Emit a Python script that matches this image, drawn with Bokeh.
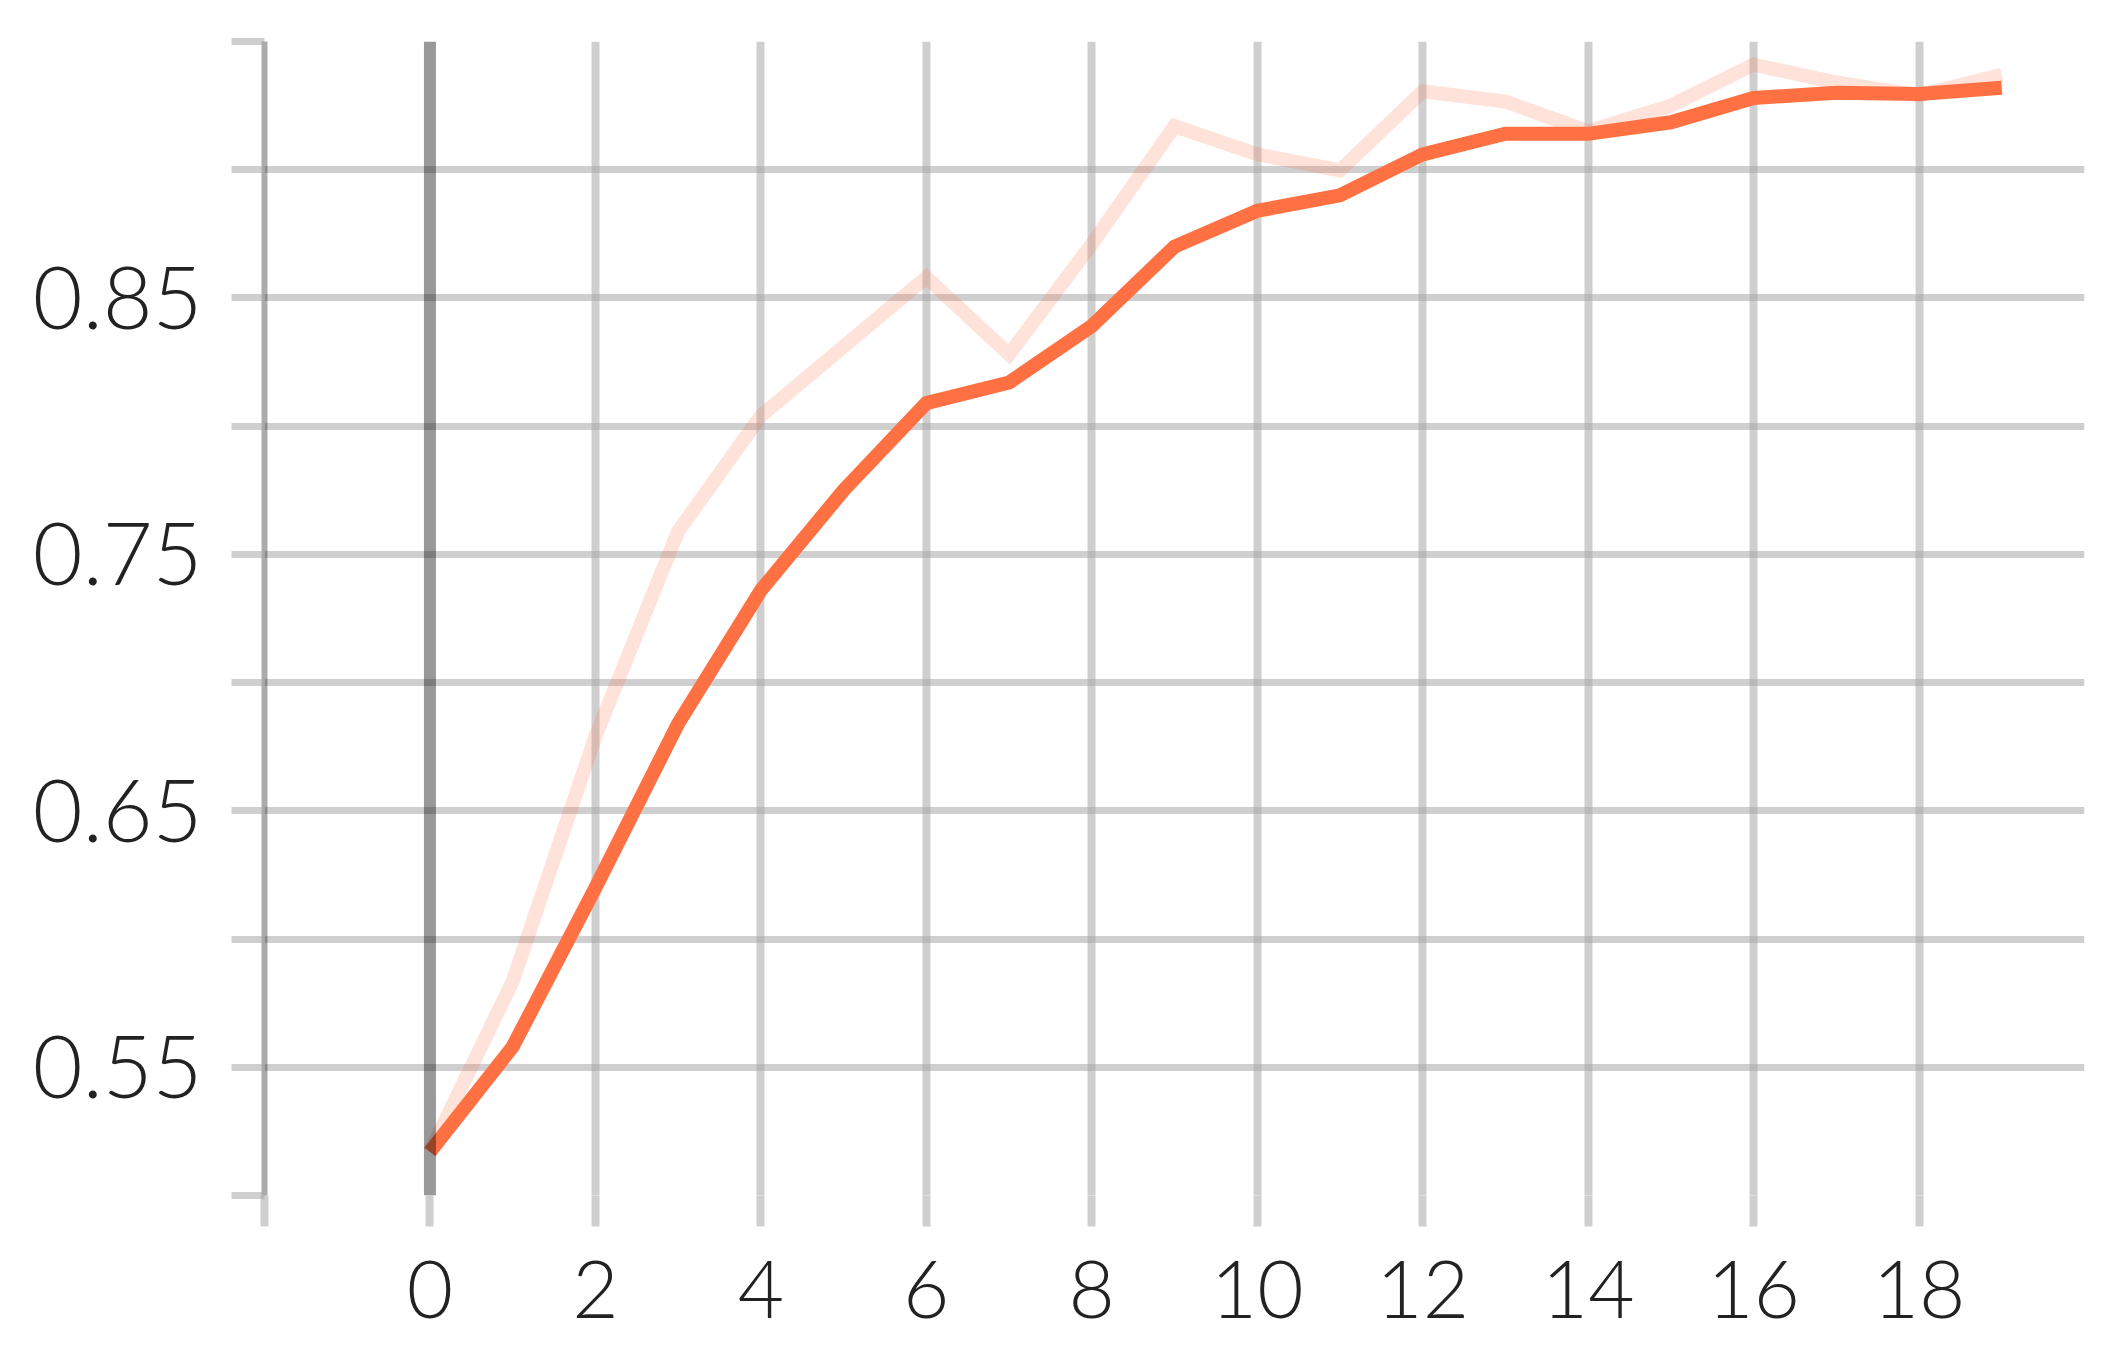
from bokeh.plotting import figure
from bokeh.models import FixedTicker, Range1d, Span
from bokeh.embed import file_html
from bokeh.resources import INLINE

steps = list(range(20))
smoothed = [0.517, 0.558, 0.620, 0.684, 0.736, 0.775, 0.809, 0.817, 0.839, 0.870,
            0.884, 0.890, 0.906, 0.914, 0.914, 0.9185, 0.928, 0.930, 0.9295, 0.932]
raw = [0.517, 0.5835, 0.679, 0.759, 0.804, 0.831, 0.858, 0.828, 0.871, 0.917,
       0.906, 0.8997, 0.9306, 0.9266, 0.915, 0.925, 0.941, 0.934, 0.929, 0.937]

x_ticks = [-2, 0, 2, 4, 6, 8, 10, 12, 14, 16, 18]
x_labels = ["", "0", "2", "4", "6", "8", "10", "12", "14", "16", "18"]
y_ticks = [0.5, 0.55, 0.6, 0.65, 0.7, 0.75, 0.8, 0.85, 0.9, 0.95]
y_labels = ["", "0.55", "", "0.65", "", "0.75", "", "0.85", "", ""]

FONT = "Lato Light, Open Sans Light, Lato"
GRID = "#a8a8a8"
GRID_ALPHA = 0.55

p = figure(width=2095, height=1340, output_backend="svg", toolbar_location=None,
           x_range=Range1d(-2, 20), y_range=Range1d(0.5, 0.95),
           min_border_left=264, min_border_right=11, min_border_top=41,
           min_border_bottom=145)
p.outline_line_color = None
p.background_fill_color = "white"

# grids
p.xgrid.ticker = FixedTicker(ticks=[t for t in x_ticks if t > 0])
p.xgrid.grid_line_color = GRID
p.xgrid.grid_line_alpha = GRID_ALPHA
p.xgrid.grid_line_width = 8
p.ygrid.ticker = FixedTicker(ticks=y_ticks)
p.ygrid.grid_line_color = GRID
p.ygrid.grid_line_alpha = GRID_ALPHA
p.ygrid.grid_line_width = 7

# x axis
xa = p.xaxis[0]
xa.ticker = FixedTicker(ticks=x_ticks)
xa.major_label_overrides = {t: l for t, l in zip(x_ticks, x_labels)}
xa.axis_line_color = None
xa.major_tick_in = 0
xa.major_tick_out = 31
xa.major_tick_line_color = GRID
xa.major_tick_line_alpha = GRID_ALPHA
xa.major_tick_line_width = 8
xa.minor_tick_line_color = None
xa.major_label_text_font = FONT
xa.major_label_text_font_size = "80px"
xa.major_label_text_color = "#222222"
xa.major_label_standoff = 34

# y axis
ya = p.yaxis[0]
ya.ticker = FixedTicker(ticks=y_ticks)
ya.major_label_overrides = {t: l for t, l in zip(y_ticks, y_labels)}
ya.axis_line_color = "black"
ya.axis_line_alpha = 0.33
ya.axis_line_width = 6
ya.major_tick_in = 0
ya.major_tick_out = 33
ya.major_tick_line_color = GRID
ya.major_tick_line_alpha = GRID_ALPHA
ya.major_tick_line_width = 7
ya.minor_tick_line_color = None
ya.major_label_text_font = FONT
ya.major_label_text_font_size = "86px"
ya.major_label_text_color = "#222222"
ya.major_label_standoff = 29

# zero line
p.add_layout(Span(location=0, dimension="height", line_color="black",
                  line_alpha=0.4, line_width=12))

p.line(steps, raw, line_color="#ff7043", line_alpha=0.2, line_width=14,
       line_join="miter")
p.line(steps, smoothed, line_color="#ff7043", line_width=14, line_join="miter")

open("out.html", "w").write(file_html(p, INLINE))
